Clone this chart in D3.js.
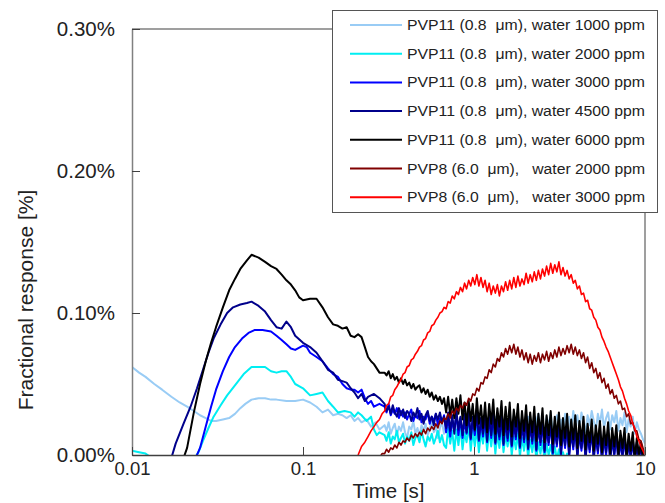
<!DOCTYPE html>
<html><head><meta charset="utf-8">
<script src="https://cdn.jsdelivr.net/npm/d3@7"></script>
<style>
html,body{margin:0;padding:0;background:#fff;}
svg{display:block;}
text{font-family:"Liberation Sans",Arial,sans-serif;}
</style></head>
<body>
<svg id="chart" width="665" height="503"></svg>
<script>
// ---------- DATA ----------
const seriesNames = [
  "PVP11 (0.8  μm), water 1000 ppm",
  "PVP11 (0.8  μm), water 2000 ppm",
  "PVP11 (0.8  μm), water 3000 ppm",
  "PVP11 (0.8  μm), water 4500 ppm",
  "PVP11 (0.8  μm), water 6000 ppm",
  "PVP8 (6.0  μm),   water 2000 ppm",
  "PVP8 (6.0  μm),   water 3000 ppm"
];
const seriesColors = ["#99ccf5","#00eef2","#0000ff","#00008b","#000000","#800000","#ff0000"];

const xTicks = [0.01, 0.1, 1, 10];
const xTickLabels = ["0.01", "0.1", "1", "10"];
const yTicks = [0, 0.1, 0.2, 0.3];
const yTickLabels = ["0.00%", "0.10%", "0.20%", "0.30%"];

// shared time grid for the later (noisy) part, seconds
const tLate = [0.300,0.308,0.317,0.326,0.335,0.344,0.354,0.364,0.374,0.385,
  0.395,0.406,0.418,0.430,0.442,0.454,0.467,0.480,0.493,0.507,
  0.521,0.536,0.551,0.566,0.582,0.598,0.615,0.632,0.650,0.668,
  0.687,0.706,0.726,0.746,0.767,0.789,0.811,0.833,0.857,0.881,
  0.905,0.931,0.957,0.983,1.011,1.039,1.068,1.098,1.129,1.161,
  1.193,1.227,1.261,1.296,1.333,1.370,1.408,1.448,1.488,1.530,
  1.573,1.617,1.662,1.709,1.757,1.806,1.856,1.908,1.962,2.017,
  2.073,2.131,2.191,2.252,2.315,2.380,2.447,2.515,2.586,2.658,
  2.732,2.809,2.888,2.968,3.051,3.137,3.225,3.315,3.408,3.503,
  3.601,3.702,3.806,3.912,4.022,4.135,4.250,4.369,4.492,4.617,
  4.747,4.880,5.016,5.157,5.301,5.450,5.602,5.759,5.920,6.086,
  6.257,6.432,6.612,6.797,6.988,7.183,7.385,7.591,7.804,8.022,
  8.247,8.478,8.715,8.959,9.210,9.468,9.733,10.0];

// early parts: [time s, response %]
const early1000 = [[0.01,0.062],[0.011,0.058],[0.012,0.055],[0.0135,0.050],[0.015,0.046],[0.017,0.041],
  [0.019,0.037],[0.021,0.034],[0.023,0.031],[0.025,0.028],[0.027,0.026],[0.029,0.024],[0.031,0.024],
  [0.034,0.025],[0.037,0.026],[0.040,0.029],[0.043,0.033],[0.046,0.036],[0.05,0.039],[0.055,0.040],
  [0.06,0.040],[0.065,0.039],[0.07,0.039],[0.08,0.038],[0.09,0.038],[0.1,0.039],[0.11,0.037],
  [0.12,0.034],[0.13,0.030],[0.14,0.032],[0.15,0.028],[0.16,0.029],[0.17,0.028],[0.18,0.026],
  [0.19,0.028],[0.2,0.024],[0.21,0.026],[0.22,0.023],[0.235,0.025],[0.25,0.020],[0.265,0.023],[0.28,0.018]];
const late1000 = [0.021,0.017,0.023,0.015,0.019,0.022,0.014,0.020,0.017,0.023,
  0.016,0.012,0.020,0.018,0.024,0.015,0.019,0.013,0.021,0.017,
  0.022,0.014,0.018,0.024,0.016,0.020,0.012,0.019,0.023,0.015,
  0.021,0.017,0.011,0.022,0.019,0.026,0.014,0.020,0.012,0.024,
  0.018,0.025,0.013,0.021,0.010,0.019,0.024,0.014,0.020,0.026,
  0.015,0.011,0.022,0.019,0.027,0.013,0.021,0.016,0.025,0.012,
  0.020,0.024,0.014,0.028,0.019,0.013,0.022,0.026,0.015,0.021,
  0.027,0.016,0.023,0.013,0.024,0.029,0.017,0.022,0.015,0.027,
  0.020,0.030,0.016,0.024,0.028,0.018,0.025,0.015,0.029,0.021,
  0.027,0.017,0.031,0.022,0.028,0.018,0.030,0.023,0.016,0.028,
  0.021,0.031,0.024,0.017,0.029,0.022,0.032,0.019,0.026,0.030,
  0.018,0.028,0.023,0.031,0.017,0.026,0.021,0.030,0.016,0.025,
  0.020,0.027,0.015,0.023,0.018,0.015,0.011,0.008];

const early2000 = [[0.01,0.003],[0.011,0.002],[0.012,0.001],[0.013,-0.002],[0.02,-0.01],[0.023,-0.003],
  [0.0245,0.002],[0.026,0.010],[0.028,0.019],[0.030,0.027],[0.033,0.035],[0.036,0.042],[0.040,0.049],
  [0.045,0.057],[0.05,0.062],[0.055,0.062],[0.06,0.062],[0.065,0.059],[0.07,0.058],[0.075,0.059],
  [0.08,0.059],[0.085,0.055],[0.09,0.050],[0.1,0.047],[0.11,0.042],[0.12,0.043],[0.13,0.044],
  [0.14,0.038],[0.15,0.034],[0.16,0.030],[0.175,0.031],[0.19,0.030],[0.2,0.027],[0.21,0.030],
  [0.22,0.028],[0.235,0.024],[0.25,0.027],[0.26,0.018],[0.27,0.014],[0.28,0.016]];
const late2000 = [0.014,0.010,0.016,0.008,0.013,0.011,0.017,0.009,0.012,0.015,
  0.008,0.013,0.010,0.016,0.007,0.012,0.014,0.009,0.017,0.011,
  0.006,0.013,0.010,0.015,0.008,0.012,0.017,0.009,0.014,0.007,
  0.005,0.019,0.008,0.017,0.003,0.018,0.007,0.020,0.004,0.016,
  0.009,0.021,0.003,0.017,0.006,0.019,0.002,0.016,0.008,0.020,
  0.003,0.017,0.006,0.019,0.001,0.015,0.005,0.018,0.002,0.014,
  0.006,0.016,0.000,0.013,0.004,0.015,-0.001,0.012,0.003,0.014,
  -0.002,0.011,0.002,0.012,-0.003,0.009,0.001,0.010,-0.004,0.008,
  0.000,0.007,-0.002,0.006,-0.003,0.004,-0.004,0.002,-0.005,0.001,
  -0.004,-0.006,-0.002,-0.008,-0.01,-0.01,-0.01,-0.01,-0.01,-0.01,
  -0.01,-0.01,-0.01,-0.01,-0.01,-0.01,-0.01,-0.01,-0.01,-0.01,
  -0.01,-0.01,-0.01,-0.01,-0.01,-0.01,-0.01,-0.01,-0.01,-0.01,
  -0.01,-0.01,-0.01,-0.01,-0.01,-0.01,-0.01,-0.01];

const early3000 = [[0.02,-0.02],[0.023,-0.005],[0.025,0.005],[0.027,0.020],[0.029,0.034],[0.031,0.046],
  [0.034,0.059],[0.037,0.069],[0.040,0.076],[0.044,0.082],[0.048,0.086],[0.052,0.088],[0.058,0.088],
  [0.065,0.087],[0.07,0.084],[0.075,0.081],[0.08,0.078],[0.085,0.075],[0.09,0.074],[0.1,0.077],
  [0.105,0.076],[0.11,0.072],[0.12,0.069],[0.13,0.066],[0.14,0.061],[0.15,0.057],[0.16,0.055],
  [0.17,0.050],[0.18,0.047],[0.19,0.046],[0.2,0.046],[0.21,0.044],[0.22,0.046],[0.23,0.040],
  [0.24,0.036],[0.25,0.038],[0.26,0.034],[0.28,0.036]];
const late3000 = [0.034,0.030,0.036,0.028,0.032,0.029,0.033,0.026,0.031,0.027,
  0.030,0.025,0.029,0.032,0.024,0.028,0.026,0.031,0.023,0.027,
  0.025,0.030,0.022,0.027,0.024,0.029,0.021,0.026,0.023,0.028,
  0.016,0.027,0.013,0.025,0.017,0.029,0.014,0.026,0.012,0.024,
  0.015,0.028,0.011,0.025,0.014,0.029,0.010,0.024,0.013,0.027,
  0.009,0.026,0.012,0.028,0.008,0.023,0.011,0.027,0.007,0.024,
  0.010,0.026,0.006,0.022,0.011,0.027,0.005,0.021,0.009,0.025,
  0.004,0.021,0.008,0.024,0.003,0.020,0.007,0.023,0.002,0.019,
  0.007,0.022,0.001,0.018,0.006,0.021,0.000,0.017,0.005,0.020,
  -0.001,0.016,0.004,0.019,-0.002,0.015,0.003,0.018,-0.003,0.014,
  0.002,0.017,-0.003,0.013,0.001,0.016,-0.004,0.012,0.000,0.015,
  -0.004,0.011,-0.001,0.014,-0.005,0.010,-0.002,0.012,-0.005,0.009,
  -0.003,0.010,-0.005,0.007,-0.004,0.006,-0.005,0.002];

const early4500 = [[0.015,-0.01],[0.017,-0.002],[0.018,0.008],[0.020,0.022],[0.022,0.034],[0.024,0.047],
  [0.026,0.060],[0.028,0.072],[0.030,0.082],[0.033,0.092],[0.036,0.100],[0.039,0.104],[0.043,0.106],
  [0.047,0.107],[0.05,0.108],[0.055,0.105],[0.06,0.101],[0.065,0.095],[0.07,0.090],[0.075,0.089],
  [0.08,0.094],[0.085,0.090],[0.09,0.084],[0.1,0.079],[0.11,0.076],[0.12,0.072],[0.13,0.066],
  [0.14,0.060],[0.15,0.058],[0.16,0.053],[0.17,0.052],[0.18,0.051],[0.19,0.047],[0.2,0.044],
  [0.21,0.040],[0.22,0.043],[0.23,0.038],[0.24,0.041],[0.26,0.043],[0.28,0.040]];
const late4500 = [0.036,0.031,0.034,0.029,0.035,0.030,0.027,0.033,0.028,0.032,
  0.026,0.031,0.029,0.024,0.030,0.027,0.033,0.025,0.029,0.022,
  0.028,0.031,0.024,0.027,0.021,0.029,0.025,0.030,0.023,0.027,
  0.019,0.030,0.017,0.028,0.015,0.031,0.018,0.027,0.014,0.029,
  0.016,0.031,0.012,0.027,0.017,0.032,0.011,0.026,0.015,0.030,
  0.010,0.028,0.014,0.031,0.009,0.025,0.013,0.029,0.008,0.027,
  0.012,0.030,0.007,0.024,0.013,0.028,0.006,0.025,0.011,0.029,
  0.005,0.023,0.010,0.027,0.004,0.022,0.009,0.026,0.003,0.021,
  0.009,0.025,0.002,0.020,0.008,0.024,0.001,0.019,0.007,0.023,
  0.000,0.018,0.006,0.022,-0.001,0.017,0.005,0.021,-0.002,0.016,
  0.004,0.020,-0.002,0.015,0.003,0.019,-0.003,0.014,0.002,0.018,
  -0.003,0.013,0.001,0.016,-0.004,0.012,0.000,0.015,-0.004,0.011,
  -0.001,0.012,-0.004,0.009,-0.002,0.007,-0.004,0.002];

const early6000 = [[0.019,-0.01],[0.021,0.005],[0.023,0.030],[0.025,0.050],[0.027,0.066],[0.029,0.079],
  [0.031,0.090],[0.034,0.104],[0.037,0.116],[0.040,0.124],[0.043,0.131],[0.047,0.137],[0.05,0.141],
  [0.055,0.139],[0.06,0.136],[0.065,0.133],[0.07,0.131],[0.075,0.127],[0.08,0.123],[0.085,0.120],
  [0.09,0.116],[0.095,0.111],[0.1,0.109],[0.11,0.110],[0.12,0.110],[0.13,0.104],[0.14,0.097],
  [0.15,0.092],[0.16,0.091],[0.17,0.089],[0.18,0.090],[0.19,0.084],[0.2,0.083],[0.21,0.085],
  [0.22,0.083],[0.23,0.076],[0.24,0.069],[0.25,0.066],[0.26,0.064],[0.28,0.058]];
const late6000 = [0.058,0.056,0.059,0.054,0.057,0.053,0.055,0.051,0.054,0.050,
  0.053,0.049,0.051,0.047,0.050,0.046,0.048,0.049,0.044,0.047,
  0.043,0.046,0.041,0.044,0.039,0.042,0.038,0.041,0.036,0.040,
  0.030,0.041,0.028,0.039,0.026,0.040,0.029,0.042,0.025,0.037,
  0.021,0.038,0.024,0.036,0.018,0.040,0.022,0.035,0.019,0.037,
  0.016,0.036,0.022,0.039,0.015,0.033,0.020,0.038,0.014,0.034,
  0.018,0.037,0.013,0.032,0.020,0.036,0.012,0.031,0.017,0.035,
  0.011,0.030,0.016,0.034,0.010,0.029,0.015,0.033,0.009,0.028,
  0.014,0.031,0.008,0.027,0.013,0.030,0.007,0.026,0.012,0.029,
  0.006,0.025,0.011,0.028,0.005,0.024,0.010,0.027,0.004,0.022,
  0.009,0.025,0.003,0.021,0.008,0.024,0.002,0.020,0.007,0.023,
  0.001,0.019,0.006,0.021,0.000,0.017,0.005,0.019,-0.002,0.015,
  0.003,0.016,-0.003,0.012,0.000,0.009,-0.002,0.003];

const earlyP8_2000 = [[0.28,-0.002],[0.29,0.001]];
const lateP8_2000 = [0.001,0.004,0.002,0.005,0.004,0.007,0.005,0.009,0.007,0.010,
  0.009,0.012,0.010,0.014,0.012,0.015,0.013,0.016,0.014,0.018,
  0.015,0.019,0.017,0.020,0.018,0.022,0.019,0.024,0.022,0.026,
  0.025,0.029,0.026,0.031,0.029,0.033,0.031,0.035,0.033,0.037,
  0.035,0.040,0.038,0.043,0.042,0.047,0.045,0.051,0.050,0.055,
  0.054,0.060,0.058,0.064,0.062,0.068,0.066,0.072,0.069,0.075,
  0.071,0.077,0.072,0.078,0.071,0.076,0.069,0.074,0.067,0.072,
  0.065,0.071,0.064,0.070,0.066,0.072,0.065,0.071,0.067,0.073,
  0.066,0.072,0.068,0.074,0.069,0.076,0.070,0.075,0.071,0.077,
  0.072,0.078,0.071,0.076,0.070,0.074,0.068,0.072,0.065,0.069,
  0.061,0.065,0.058,0.061,0.054,0.058,0.051,0.054,0.047,0.050,
  0.043,0.046,0.040,0.042,0.036,0.038,0.032,0.033,0.027,0.029,
  0.022,0.023,0.017,0.017,0.011,0.010,0.005,0.000];

const earlyP8_3000 = [[0.20,-0.005],[0.21,0.0],[0.22,0.006],[0.23,0.009],[0.24,0.013],[0.25,0.017],
  [0.26,0.020],[0.27,0.023],[0.28,0.025],[0.29,0.029]];
const lateP8_3000 = [0.031,0.035,0.036,0.041,0.042,0.046,0.048,0.051,0.053,0.057,
  0.058,0.062,0.063,0.067,0.068,0.071,0.073,0.076,0.077,0.081,
  0.082,0.086,0.087,0.091,0.092,0.095,0.097,0.100,0.101,0.104,
  0.103,0.108,0.107,0.112,0.110,0.115,0.113,0.118,0.115,0.121,
  0.117,0.123,0.119,0.125,0.120,0.127,0.119,0.125,0.118,0.123,
  0.115,0.121,0.113,0.119,0.114,0.120,0.112,0.119,0.115,0.122,
  0.116,0.123,0.117,0.125,0.118,0.126,0.119,0.124,0.120,0.128,
  0.121,0.127,0.122,0.129,0.123,0.130,0.124,0.131,0.126,0.133,
  0.127,0.135,0.128,0.134,0.129,0.136,0.127,0.132,0.126,0.130,
  0.124,0.127,0.121,0.123,0.117,0.119,0.113,0.114,0.108,0.109,
  0.103,0.102,0.097,0.095,0.090,0.088,0.083,0.080,0.076,0.073,
  0.069,0.065,0.061,0.057,0.053,0.048,0.045,0.040,0.036,0.031,
  0.028,0.022,0.019,0.013,0.010,0.006,0.003,0.000];

const earlyParts = [early1000, early2000, early3000, early4500, early6000, earlyP8_2000, earlyP8_3000];
const lateParts = [late1000, late2000, late3000, late4500, late6000, lateP8_2000, lateP8_3000];

// ---------- CHART ----------
const svg = d3.select("#chart");
const L = 132, R = 645, T = 29, B = 455;
const x = d3.scaleLog().domain([0.01, 10]).range([L, R]);
const y = d3.scaleLinear().domain([0, 0.3]).range([B, T]);

svg.append("defs").append("clipPath").attr("id","plotclip")
  .append("rect").attr("x", L).attr("y", T).attr("width", R - L).attr("height", B - T);

const series = earlyParts.map((e, i) => e.concat(tLate.slice(0, lateParts[i].length).map((t, j) => [t, lateParts[i][j]])));

const line = d3.line().x(d => x(d[0])).y(d => y(d[1]));
const widths = [2, 2, 2, 2, 2, 1.6, 1.6];

const g = svg.append("g").attr("clip-path", "url(#plotclip)");
series.forEach((s, i) => {
  g.append("path").datum(s).attr("d", line)
    .attr("fill", "none").attr("stroke", seriesColors[i])
    .attr("stroke-width", widths[i]).attr("stroke-linejoin", "round");
});

// frame
svg.append("path").attr("d", `M${L},${T}H${R}V${B}`).attr("fill","none").attr("stroke","#808080").attr("stroke-width",1.5);

// axes
const yAxis = d3.axisLeft(y).tickValues(yTicks).tickSize(-8).tickSizeOuter(0).tickPadding(17)
  .tickFormat((d, i) => yTickLabels[i]);
const ya = svg.append("g").attr("transform", `translate(${L},0)`).call(yAxis);
ya.select(".domain").attr("stroke", "#808080").attr("stroke-width", 1.5);
ya.selectAll(".tick line").attr("stroke", "#404040");
ya.selectAll("text").attr("font-size", 20.5).attr("fill", "#222").attr("font-family", "Liberation Sans, Arial, sans-serif");

const xAxis = d3.axisBottom(x).tickValues(xTicks).tickSize(-8).tickSizeOuter(0).tickPadding(7)
  .tickFormat((d, i) => xTickLabels[i]);
const xa = svg.append("g").attr("transform", `translate(0,${B})`).call(xAxis);
xa.select(".domain").attr("stroke", "#404040").attr("stroke-width", 1.5);
xa.selectAll(".tick line").attr("stroke", "#404040");
xa.selectAll("text").attr("font-size", 18.5).attr("fill", "#222").attr("font-family", "Liberation Sans, Arial, sans-serif");

// titles
svg.append("text").attr("x", (L + R) / 2).attr("y", 498).attr("text-anchor", "middle")
  .attr("font-size", 20.5).attr("fill", "#222").text("Time [s]");
svg.append("text").attr("transform", `translate(33,300) rotate(-90)`).attr("text-anchor", "middle")
  .attr("font-size", 21).attr("fill", "#222").text("Fractional response [%]");

// legend
const lg = svg.append("g");
lg.append("rect").attr("x", 332.5).attr("y", 10.5).attr("width", 325).attr("height", 202)
  .attr("fill", "#fff").attr("stroke", "#555").attr("stroke-width", 1);
seriesNames.forEach((name, i) => {
  const yy = 25 + i * 28.7;
  lg.append("line").attr("x1", 350).attr("x2", 402).attr("y1", yy).attr("y2", yy)
    .attr("stroke", seriesColors[i]).attr("stroke-width", 2);
  const t = lg.append("text").attr("x", 407).attr("y", yy + 5)
    .attr("font-family", "'Noto Sans CJK JP', 'Noto Sans', sans-serif")
    .attr("font-size", 14).attr("fill", "#222").style("white-space", "pre").text(name);
  const len = t.node().getComputedTextLength();
  if (len > 0) t.attr("textLength", 238).attr("lengthAdjust", "spacingAndGlyphs");
});
</script>
</body></html>
